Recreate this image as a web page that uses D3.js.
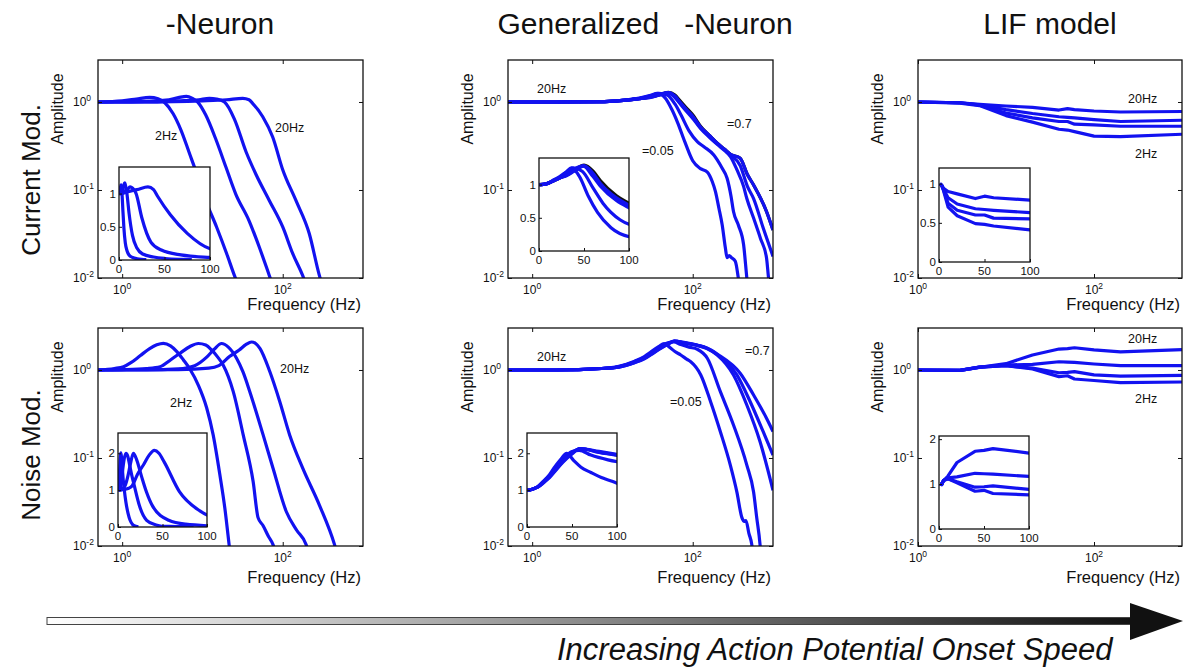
<!DOCTYPE html>
<html>
<head>
<meta charset="utf-8">
<script src="https://cdn.jsdelivr.net/npm/d3@7"></script>
<style>
  body { margin: 0; background: #fff; }
  svg text { font-family: "Liberation Sans", Arial, Helvetica, sans-serif; fill: #111; }
</style>
</head>
<body>
<svg id="fig" width="1183" height="668"></svg>
<script>
// ---- values: [frequency (Hz), amplitude] ----
const colTitles = ["-Neuron", "Generalized   -Neuron", "LIF model"];
const rowLabels = ["Current Mod.", "Noise Mod."];
const noteText = ["2Hz", "20Hz", "=0.7", "=0.05"];
const arrowText = "Increasing Action Potential Onset Speed";

// theta neuron, current modulation (2, 5, 10, 20 Hz)
const thetaCurrent = [
  [[0.5,1.0],[1,1.03],[1.5,1.08],[2.2,1.13],[2.8,1.09],[3.4,0.98],[4.3,0.74],[5.4,0.48],[6.9,0.26],[8.8,0.14],[11,0.076],[15,0.038],[20,0.019],[25,0.0107],[30,0.007]],
  [[0.5,1.0],[1,1.0],[2,1.02],[3.5,1.05],[5,1.12],[6.3,1.16],[7.5,1.1],[8.8,0.99],[11,0.71],[14.8,0.37],[19.7,0.18],[26,0.09],[38,0.045],[51,0.0225],[68,0.0107],[80,0.007]],
  [[0.5,1.0],[2,1.0],[5,1.03],[9,1.06],[12.2,1.1],[15,1.08],[18.8,1.0],[25,0.64],[35,0.27],[46.5,0.15],[68,0.076],[100,0.038],[133,0.019],[177,0.0107],[210,0.007]],
  [[0.5,1.0],[2,1.0],[10,1.03],[20,1.06],[31.8,1.1],[38,1.06],[42.4,0.96],[56.4,0.68],[75,0.4],[100,0.17],[146,0.076],[214,0.032],[286,0.0107],[330,0.007]]
];

// generalized neuron, current modulation (black reference + five blue curves)
const genCurrentRef = [[0.5,1.0],[2,1.0],[8,1.01],[15,1.05],[23,1.1],[30,1.14],[40,1.22],[50,1.29],[60,1.2],[68,1.06],[86,0.83],[100,0.715],[125,0.53],[160,0.42],[202,0.34],[250,0.29],[295,0.255],[390,0.23],[480,0.15],[573,0.114],[830,0.057],[1000,0.035]];
const genCurrent = [
  [[0.5,1.0],[2,1.0],[8,1.01],[15,1.06],[23,1.12],[30,1.19],[36,1.25],[45,1.12],[55,0.82],[65,0.58],[80,0.35],[100,0.215],[125,0.175],[152,0.16],[175,0.125],[192,0.096],[212,0.062],[233,0.04],[255,0.022],[268,0.017],[285,0.018],[300,0.0172],[339,0.0155],[370,0.01],[400,0.006]],
  [[0.5,1.0],[2,1.0],[8,1.01],[15,1.05],[23,1.11],[30,1.18],[38,1.25],[48,1.2],[60,0.95],[71,0.72],[90,0.47],[114,0.355],[138,0.31],[183,0.25],[230,0.18],[268,0.136],[300,0.085],[322,0.057],[370,0.04],[430,0.024],[472,0.01],[500,0.006]],
  [[0.5,1.0],[2,1.0],[8,1.01],[15,1.05],[23,1.1],[30,1.15],[40,1.24],[49,1.28],[60,1.12],[68,0.98],[86,0.76],[100,0.65],[125,0.5],[160,0.4],[202,0.33],[250,0.28],[295,0.24],[355,0.17],[430,0.11],[472,0.08],[573,0.048],[700,0.028],[830,0.017],[880,0.01],[950,0.006]],
  [[0.5,1.0],[2,1.0],[8,1.01],[15,1.05],[23,1.1],[30,1.14],[40,1.22],[50,1.28],[60,1.15],[68,1.0],[86,0.78],[100,0.67],[125,0.51],[160,0.41],[202,0.335],[250,0.285],[295,0.25],[390,0.19],[480,0.11],[573,0.08],[755,0.037],[1000,0.0176]],
  [[0.5,1.0],[2,1.0],[8,1.01],[15,1.05],[23,1.1],[30,1.13],[40,1.21],[50,1.28],[60,1.17],[68,1.02],[86,0.8],[100,0.69],[125,0.52],[160,0.42],[202,0.34],[250,0.29],[295,0.255],[390,0.23],[480,0.15],[573,0.114],[830,0.057],[1000,0.035]]
];

// LIF model: shared frequency grid, one row per input rate (20Hz ... 2Hz)
const lifFreq = [1, 3, 5, 10, 20, 40, 50, 60, 100, 200, 1000];
const lifCurrent = [
  [1.0,0.98,0.94,0.9,0.87,0.81,0.84,0.82,0.79,0.77,0.78],
  [1.0,0.98,0.93,0.82,0.74,0.68,0.67,0.66,0.63,0.6,0.62],
  [1.0,0.98,0.92,0.75,0.66,0.6,0.6,0.56,0.55,0.53,0.53],
  [1.0,0.97,0.91,0.7,0.59,0.49,0.48,0.46,0.41,0.405,0.43]
];
const lifNoise = [
  [1.0,0.99,1.07,1.18,1.48,1.73,1.75,1.79,1.69,1.61,1.7],
  [1.0,0.99,1.08,1.14,1.16,1.24,1.23,1.22,1.17,1.12,1.12],
  [1.0,0.99,1.08,1.12,1.05,0.93,0.94,0.96,0.88,0.85,0.87],
  [1.0,0.99,1.08,1.12,1.03,0.84,0.86,0.79,0.76,0.72,0.73]
];

// theta neuron, noise modulation
const thetaNoise = [
  [[0.5,1.0],[0.8,1.04],[1.04,1.09],[1.3,1.22],[1.67,1.45],[2.2,1.75],[2.7,1.93],[3.26,2.01],[4,1.88],[4.8,1.62],[5.8,1.3],[7.0,1.02],[8.9,0.67],[11.3,0.37],[13.6,0.183],[16.5,0.064],[19,0.027],[21.5,0.0103],[23,0.006]],
  [[0.5,1.0],[1,1.01],[2,1.04],[2.97,1.09],[4,1.3],[5.25,1.55],[7,1.85],[8.9,2.0],[11,1.92],[13,1.69],[15.5,1.4],[18.1,1.14],[24.2,0.567],[32.2,0.183],[42.8,0.054],[49.3,0.021],[57,0.017],[66,0.013],[75.9,0.0103],[85,0.007]],
  [[0.5,1.0],[2,1.0],[5,1.03],[8,1.12],[11.3,1.4],[14,1.72],[17.3,2.0],[21,1.82],[26.6,1.36],[32,0.95],[38.9,0.567],[57,0.183],[75.9,0.076],[111,0.0245],[150,0.015],[196,0.0103],[220,0.007]],
  [[0.5,1.0],[5,1.01],[12,1.05],[16,1.12],[21.7,1.42],[28.7,1.69],[35,1.95],[40.8,2.08],[46,2.0],[52,1.76],[69,0.96],[92,0.436],[122,0.183],[178,0.076],[287,0.029],[443,0.0103],[500,0.007]]
];

// generalized neuron, noise modulation
const genNoise = [
  [[0.5,1.0],[2,1.0],[7.3,1.04],[12,1.1],[18.9,1.26],[25,1.42],[30,1.6],[38,1.85],[44,2.0],[52,1.8],[60,1.62],[71,1.48],[85,1.32],[94.5,1.24],[126,0.877],[167,0.436],[221,0.199],[294,0.083],[355,0.041],[410,0.021],[440,0.019],[460,0.0195],[500,0.014],[545,0.0103],[580,0.006]],
  [[0.5,1.0],[2,1.0],[7.3,1.04],[12,1.09],[18.9,1.24],[25,1.4],[30,1.55],[40,1.85],[50,2.05],[58,2.08],[71,1.95],[90,1.82],[114,1.72],[152,1.36],[221,0.567],[322,0.237],[472,0.083],[573,0.041],[627,0.021],[690,0.0103],[720,0.006]],
  [[0.5,1.0],[2,1.0],[7.3,1.04],[12,1.09],[18.9,1.23],[25,1.38],[30,1.52],[40,1.8],[50,2.02],[59,2.13],[80,2.02],[114,1.9],[150,1.75],[202,1.48],[322,0.877],[472,0.4],[690,0.153],[1000,0.043]],
  [[0.5,1.0],[2,1.0],[7.3,1.04],[12,1.08],[18.9,1.22],[25,1.36],[30,1.5],[40,1.78],[50,2.0],[59,2.13],[80,2.03],[114,1.91],[150,1.77],[202,1.5],[355,0.88],[520,0.436],[755,0.199],[1000,0.108]],
  [[0.5,1.0],[2,1.0],[7.3,1.04],[12,1.08],[18.9,1.21],[25,1.34],[30,1.48],[40,1.76],[50,1.98],[59,2.13],[80,2.05],[114,1.92],[150,1.78],[202,1.52],[390,0.92],[573,0.52],[830,0.283],[1000,0.2]]
];

const mainYTicks = [0.01, 0.1, 1];
const mainXTicks = [1, 100];
const insetXTicks = [0, 50, 100];
const currentInsetTicks = [0, 0.5, 1];
const noiseInsetTicks = [0, 1, 2];

// ---- layout ----
const blue = "#1212f0";
const lifSeries = rows => rows.map(r => r.map((v, i) => [lifFreq[i], v]));

const panels = [
  {series: thetaCurrent, box: [98, 363, 60, 278], xDom: [0.5, 1000], inset: [119, 210, 167, 260], iyMax: 1.4, iyTicks: currentInsetTicks, smooth: true,
   notes: [[0, 155, 140], [1, 275, 132]], xlabY: 310},
  {series: genCurrent, ref: genCurrentRef, box: [508, 773, 60, 278], xDom: [0.5, 1000], inset: [539, 629, 158, 251], iyMax: 1.4, iyTicks: currentInsetTicks, smooth: true,
   notes: [[1, 537, 93], [2, 727, 128], [3, 642, 155]], xlabY: 310},
  {series: lifSeries(lifCurrent), box: [918, 1182, 60, 278], xDom: [1, 1000], inset: [939, 1030, 168, 262], iyMax: 1.2, iyTicks: currentInsetTicks, smooth: false,
   notes: [[1, 1128, 103], [0, 1135, 158]], xlabY: 310},
  {series: thetaNoise, box: [98, 363, 328, 546], xDom: [0.5, 1000], inset: [118, 207, 433, 527], iyMax: 2.55, iyTicks: noiseInsetTicks, smooth: true,
   notes: [[0, 170, 407], [1, 280, 373]], xlabY: 583},
  {series: genNoise, box: [508, 773, 328, 546], xDom: [0.5, 1000], inset: [527, 617, 433, 527], iyMax: 2.55, iyTicks: noiseInsetTicks, smooth: true,
   notes: [[1, 537, 361], [2, 745, 355], [3, 670, 406]], xlabY: 583},
  {series: lifSeries(lifNoise), box: [918, 1182, 328, 546], xDom: [1, 1000], inset: [939, 1029, 436, 529], iyMax: 2.07, iyTicks: noiseInsetTicks, smooth: false,
   notes: [[1, 1128, 343], [0, 1135, 403]], xlabY: 583}
];

const svg = d3.select("#fig");
const defs = svg.append("defs");

function addClip(id, x0, x1, y0, y1) {
  defs.append("clipPath").attr("id", id)
    .append("rect").attr("x", x0).attr("y", y0).attr("width", x1 - x0).attr("height", y1 - y0);
}

function powLabel(g, x, y, v, anchor) {
  const t = g.append("text").attr("x", x).attr("y", y)
    .attr("text-anchor", anchor).attr("font-size", 12);
  t.append("tspan").text("10");
  t.append("tspan").attr("dy", -5).attr("font-size", 8.5).text(Math.round(Math.log10(v)));
}

function drawPanel(p, i) {
  const [bx0, bx1, by0, by1] = p.box;
  const g = svg.append("g");
  const x = d3.scaleLog().domain(p.xDom).range([bx0, bx1]);
  const y = d3.scaleLog().domain([0.01, 3]).range([by1, by0]);
  const curve = p.smooth ? d3.curveMonotoneX : d3.curveLinear;

  addClip("main" + i, bx0, bx1, by0, by1);
  const line = d3.line().x(d => x(d[0])).y(d => y(d[1])).curve(curve);
  const lines = g.append("g").attr("clip-path", `url(#main${i})`);
  if (p.ref) {
    lines.append("path").attr("d", line(p.ref)).attr("fill", "none")
      .attr("stroke", "#111").attr("stroke-width", 3.2);
  }
  lines.selectAll("path.s").data(p.series).join("path").attr("class", "s")
    .attr("d", line).attr("fill", "none").attr("stroke", blue)
    .attr("stroke-width", 3.2).attr("stroke-linejoin", "round");

  // main box + inward ticks on all four sides
  g.append("rect").attr("x", bx0).attr("y", by0).attr("width", bx1 - bx0).attr("height", by1 - by0)
    .attr("fill", "none").attr("stroke", "#111").attr("stroke-width", 1.3);
  const ax = [
    [d3.axisBottom(x).tickValues(mainXTicks), `translate(0,${by1})`],
    [d3.axisTop(x).tickValues(mainXTicks), `translate(0,${by0})`],
    [d3.axisLeft(y).tickValues(mainYTicks), `translate(${bx0},0)`],
    [d3.axisRight(y).tickValues(mainYTicks), `translate(${bx1},0)`]
  ];
  ax.forEach(([a, tr]) => {
    const ag = g.append("g").attr("transform", tr)
      .call(a.tickSizeInner(-4).tickSizeOuter(0).tickFormat(""));
    ag.select(".domain").remove();
    ag.selectAll("line").attr("stroke", "#111").attr("stroke-width", 1);
  });
  mainXTicks.forEach(v => powLabel(g, x(v), by1 + 16, v, "middle"));
  mainYTicks.forEach(v => powLabel(g, bx0 - 25, y(v) + 4, v, "start"));

  // axis labels
  g.append("text").attr("transform", `translate(${bx0 - 35},${by0 + 49}) rotate(-90)`)
    .attr("text-anchor", "middle").attr("font-size", 16).text("Amplitude");
  g.append("text").attr("x", bx1 - 2).attr("y", p.xlabY)
    .attr("text-anchor", "end").attr("font-size", 16.5).text("Frequency (Hz)");

  // annotations
  p.notes.forEach(([k, nx, ny]) => {
    g.append("text").attr("x", nx).attr("y", ny).attr("font-size", 12.5).text(noteText[k]);
  });

  // inset: same curves on linear axes, 0-100 Hz
  const [ix0, ix1, iy0, iy1] = p.inset;
  const xi = d3.scaleLinear().domain([0, 100]).range([ix0, ix1]);
  const yi = d3.scaleLinear().domain([0, p.iyMax]).range([iy1, iy0]);
  g.append("rect").attr("x", ix0).attr("y", iy0).attr("width", ix1 - ix0).attr("height", iy1 - iy0)
    .attr("fill", "#fff");
  addClip("inset" + i, ix0, ix1, iy0, iy1);
  const iline = d3.line().x(d => xi(d[0])).y(d => yi(d[1])).curve(curve);
  const cut = s => s.filter((d, j) => j === 0 || s[j - 1][0] <= 100);
  const ilines = g.append("g").attr("clip-path", `url(#inset${i})`);
  if (p.ref) {
    ilines.append("path").attr("d", iline(cut(p.ref))).attr("fill", "none")
      .attr("stroke", "#111").attr("stroke-width", 3.4);
  }
  ilines.selectAll("path.s").data(p.series.map(cut)).join("path").attr("class", "s")
    .attr("d", iline).attr("fill", "none").attr("stroke", blue)
    .attr("stroke-width", 3.2).attr("stroke-linejoin", "round");
  g.append("rect").attr("x", ix0).attr("y", iy0).attr("width", ix1 - ix0).attr("height", iy1 - iy0)
    .attr("fill", "none").attr("stroke", "#111").attr("stroke-width", 1.3);
  [[d3.axisBottom(xi).tickValues(insetXTicks), `translate(0,${iy1})`],
   [d3.axisLeft(yi).tickValues(p.iyTicks), `translate(${ix0},0)`]].forEach(([a, tr]) => {
    const ag = g.append("g").attr("transform", tr)
      .call(a.tickSizeInner(-3).tickSizeOuter(0).tickFormat(""));
    ag.select(".domain").remove();
    ag.selectAll("line").attr("stroke", "#111");
  });
  insetXTicks.forEach(v => g.append("text").attr("x", xi(v)).attr("y", iy1 + 13)
    .attr("text-anchor", "middle").attr("font-size", 11.5).text(v));
  p.iyTicks.forEach(v => g.append("text").attr("x", ix0 - 3).attr("y", yi(v) + 4)
    .attr("text-anchor", "end").attr("font-size", 11.5).text(v));
}

panels.forEach(drawPanel);

// column titles and row labels
const titleX = [220, 645, 1050];
colTitles.forEach((t, i) => {
  svg.append("text").attr("x", titleX[i]).attr("y", 34).attr("text-anchor", "middle")
    .attr("font-size", 30).style("white-space", "pre").text(t);
});
const rowY = [180, 455];
rowLabels.forEach((t, i) => {
  svg.append("text").attr("transform", `translate(40,${rowY[i]}) rotate(-90)`)
    .attr("text-anchor", "middle").attr("font-size", 26).text(t);
});

// gradient arrow along the bottom
const grad = defs.append("linearGradient").attr("id", "arrowGrad")
  .attr("x1", "0").attr("x2", "1").attr("y1", "0").attr("y2", "0");
grad.append("stop").attr("offset", "0").attr("stop-color", "#fff");
grad.append("stop").attr("offset", "0.5").attr("stop-color", "#8a8a8a");
grad.append("stop").attr("offset", "1").attr("stop-color", "#111");
svg.append("rect").attr("x", 47).attr("y", 617.5).attr("width", 1085).attr("height", 7)
  .attr("fill", "url(#arrowGrad)").attr("stroke", "#444").attr("stroke-width", 1);
svg.append("path").attr("d", "M1130,603 L1183,621 L1130,640 Z").attr("fill", "#111");
svg.append("text").attr("x", 557).attr("y", 660).attr("font-size", 31)
  .attr("font-style", "italic").text(arrowText);
</script>
</body>
</html>
